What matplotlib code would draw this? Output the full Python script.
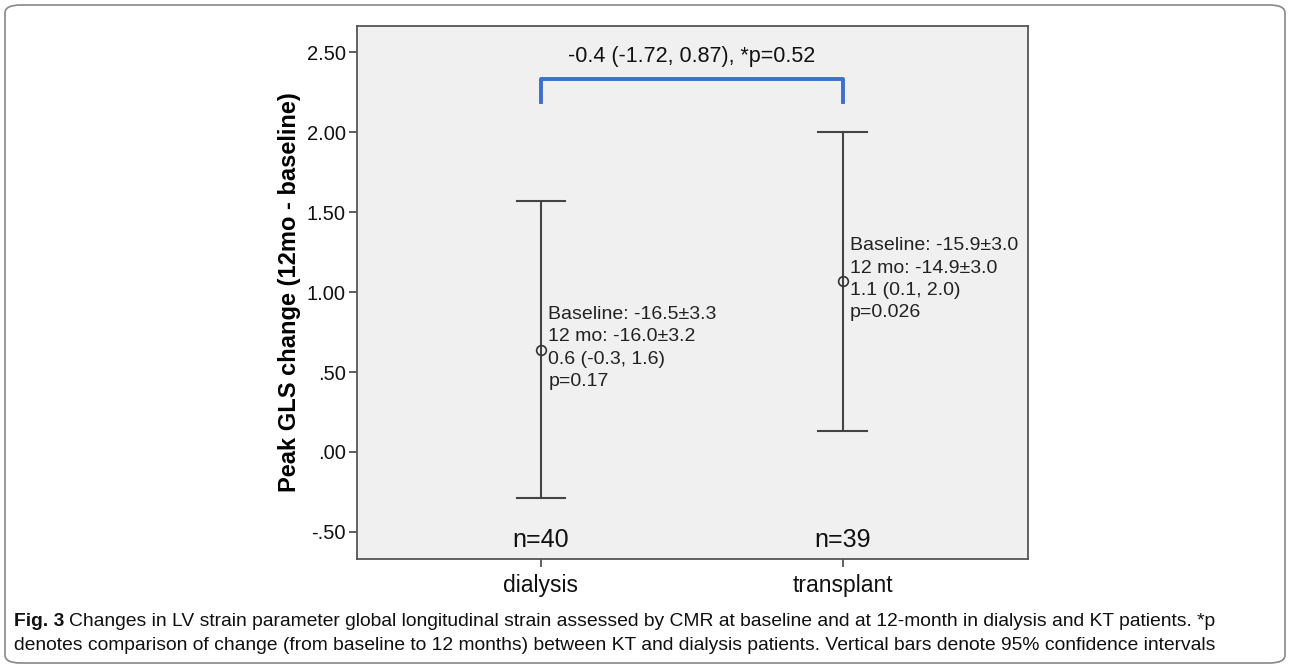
import matplotlib
matplotlib.use('Agg')
import matplotlib.pyplot as plt
from matplotlib.patches import FancyBboxPatch
from matplotlib.ticker import FuncFormatter
from matplotlib import font_manager

plt.rcParams['font.family'] = ['Liberation Sans', 'DejaVu Sans']

# data
groups = ['dialysis', 'transplant']
means = [0.64, 1.07]
ci_low = [-0.29, 0.13]
ci_high = [1.57, 2.00]
n_labels = ['n=40', 'n=39']
notes = ['Baseline: -16.5±3.3\n12 mo: -16.0±3.2\n0.6 (-0.3, 1.6)\np=0.17',
         'Baseline: -15.9±3.0\n12 mo: -14.9±3.0\n1.1 (0.1, 2.0)\np=0.026']
compare_text = '-0.4 (-1.72, 0.87), *p=0.52'
yticks = [-0.5, 0.0, 0.5, 1.0, 1.5, 2.0, 2.5]
cap_bold = 'Fig. 3'
cap_line1 = 'Changes in LV strain parameter global longitudinal strain assessed by CMR at baseline and at 12-month in dialysis and KT patients. *p'
cap_line2 = 'denotes comparison of change (from baseline to 12 months) between KT and dialysis patients. Vertical bars denote 95% confidence intervals'

W, H = 1290, 668
fig = plt.figure(figsize=(W/100, H/100), dpi=100)
ax = fig.add_axes([357/W, 1-559/H, 671/W, 533/H])
ax.set_facecolor('#f0f0f0')

x = list(range(len(groups)))
for i in x:
    ax.plot([i, i], [ci_low[i], ci_high[i]], color='#444444', lw=1.5)
    for v in (ci_low[i], ci_high[i]):
        ax.plot([i-0.08, i+0.08], [v, v], color='#444444', lw=1.5)
    ax.plot(i, means[i], 'o', mfc='none', mec='#333333', ms=7, mew=1.2)
    ax.text(i+0.025, means[i]+0.01, notes[i], fontsize=14, va='center', ha='left',
            linespacing=1.4, color='#222222')
    ax.text(i, -0.55, n_labels[i], fontsize=18, ha='center', va='center', color='#111111')

# comparison bracket
ax.plot([0, 0, 1, 1], [2.19, 2.33, 2.33, 2.19], color='#3b6fd0', lw=2.8)
ax.text(0.5, 2.47, compare_text, fontsize=15.5, ha='center', va='center', color='#111111')

ax.set_xlim(-0.61, 1.615)
ax.set_ylim(-0.669, 2.663)
ax.set_xticks(x)
ax.set_xticklabels(groups, fontsize=16.5)
ax.set_yticks(yticks)
ax.yaxis.set_major_formatter(FuncFormatter(lambda v, p: ('%.2f' % v).replace('0.', '.', 1) if abs(v) < 1 else '%.2f' % v))
ax.tick_params(axis='y', labelsize=14.5, length=6, width=1.2, color='#444444', pad=2, labelcolor='#111111')
ax.tick_params(axis='x', length=6, width=1.2, color='#444444', pad=5, labelcolor='#111111')
for s in ax.spines.values():
    s.set_color('#555555')
    s.set_linewidth(1.3)
ax.set_ylabel('Peak GLS change (12mo - baseline)', fontsize=17, fontweight='bold', labelpad=4)

# outer rounded frame
frame = FancyBboxPatch((5/W, 5/H), 1280/W, 658/H, boxstyle='round,pad=0,rounding_size=0.012',
                       transform=fig.transFigure, fill=False, ec='#888888', lw=1.2)
fig.patches.append(frame)

# caption: narrow font if there is one, size fitted to the line width
names = {f.name for f in font_manager.fontManager.ttflist}
cap_font = ['Liberation Sans Narrow', 'Liberation Sans'] if 'Liberation Sans Narrow' in names else ['Liberation Sans', 'DejaVu Sans']
fs = 14
t1 = fig.text(14/W, 1-621/H, cap_bold, fontsize=fs, fontweight='bold', family=cap_font,
              va='center', ha='left', color='#111111')
t2 = fig.text(0, 1-621/H, cap_line1, fontsize=fs, family=cap_font, va='center', ha='left', color='#111111')
t3 = fig.text(14/W, 1-646/H, cap_line2, fontsize=fs, family=cap_font, va='center', ha='left', color='#111111')
fig.canvas.draw()
r = fig.canvas.get_renderer()
total = t1.get_window_extent(r).width + 5 + t2.get_window_extent(r).width
fs = fs * (1225 - 14) / total
for t in (t1, t2, t3):
    t.set_fontsize(fs)
fig.canvas.draw()
bb = t1.get_window_extent(r)
t2.set_x((bb.x1 + 5)/W)

fig.savefig('out.png', dpi=100)
